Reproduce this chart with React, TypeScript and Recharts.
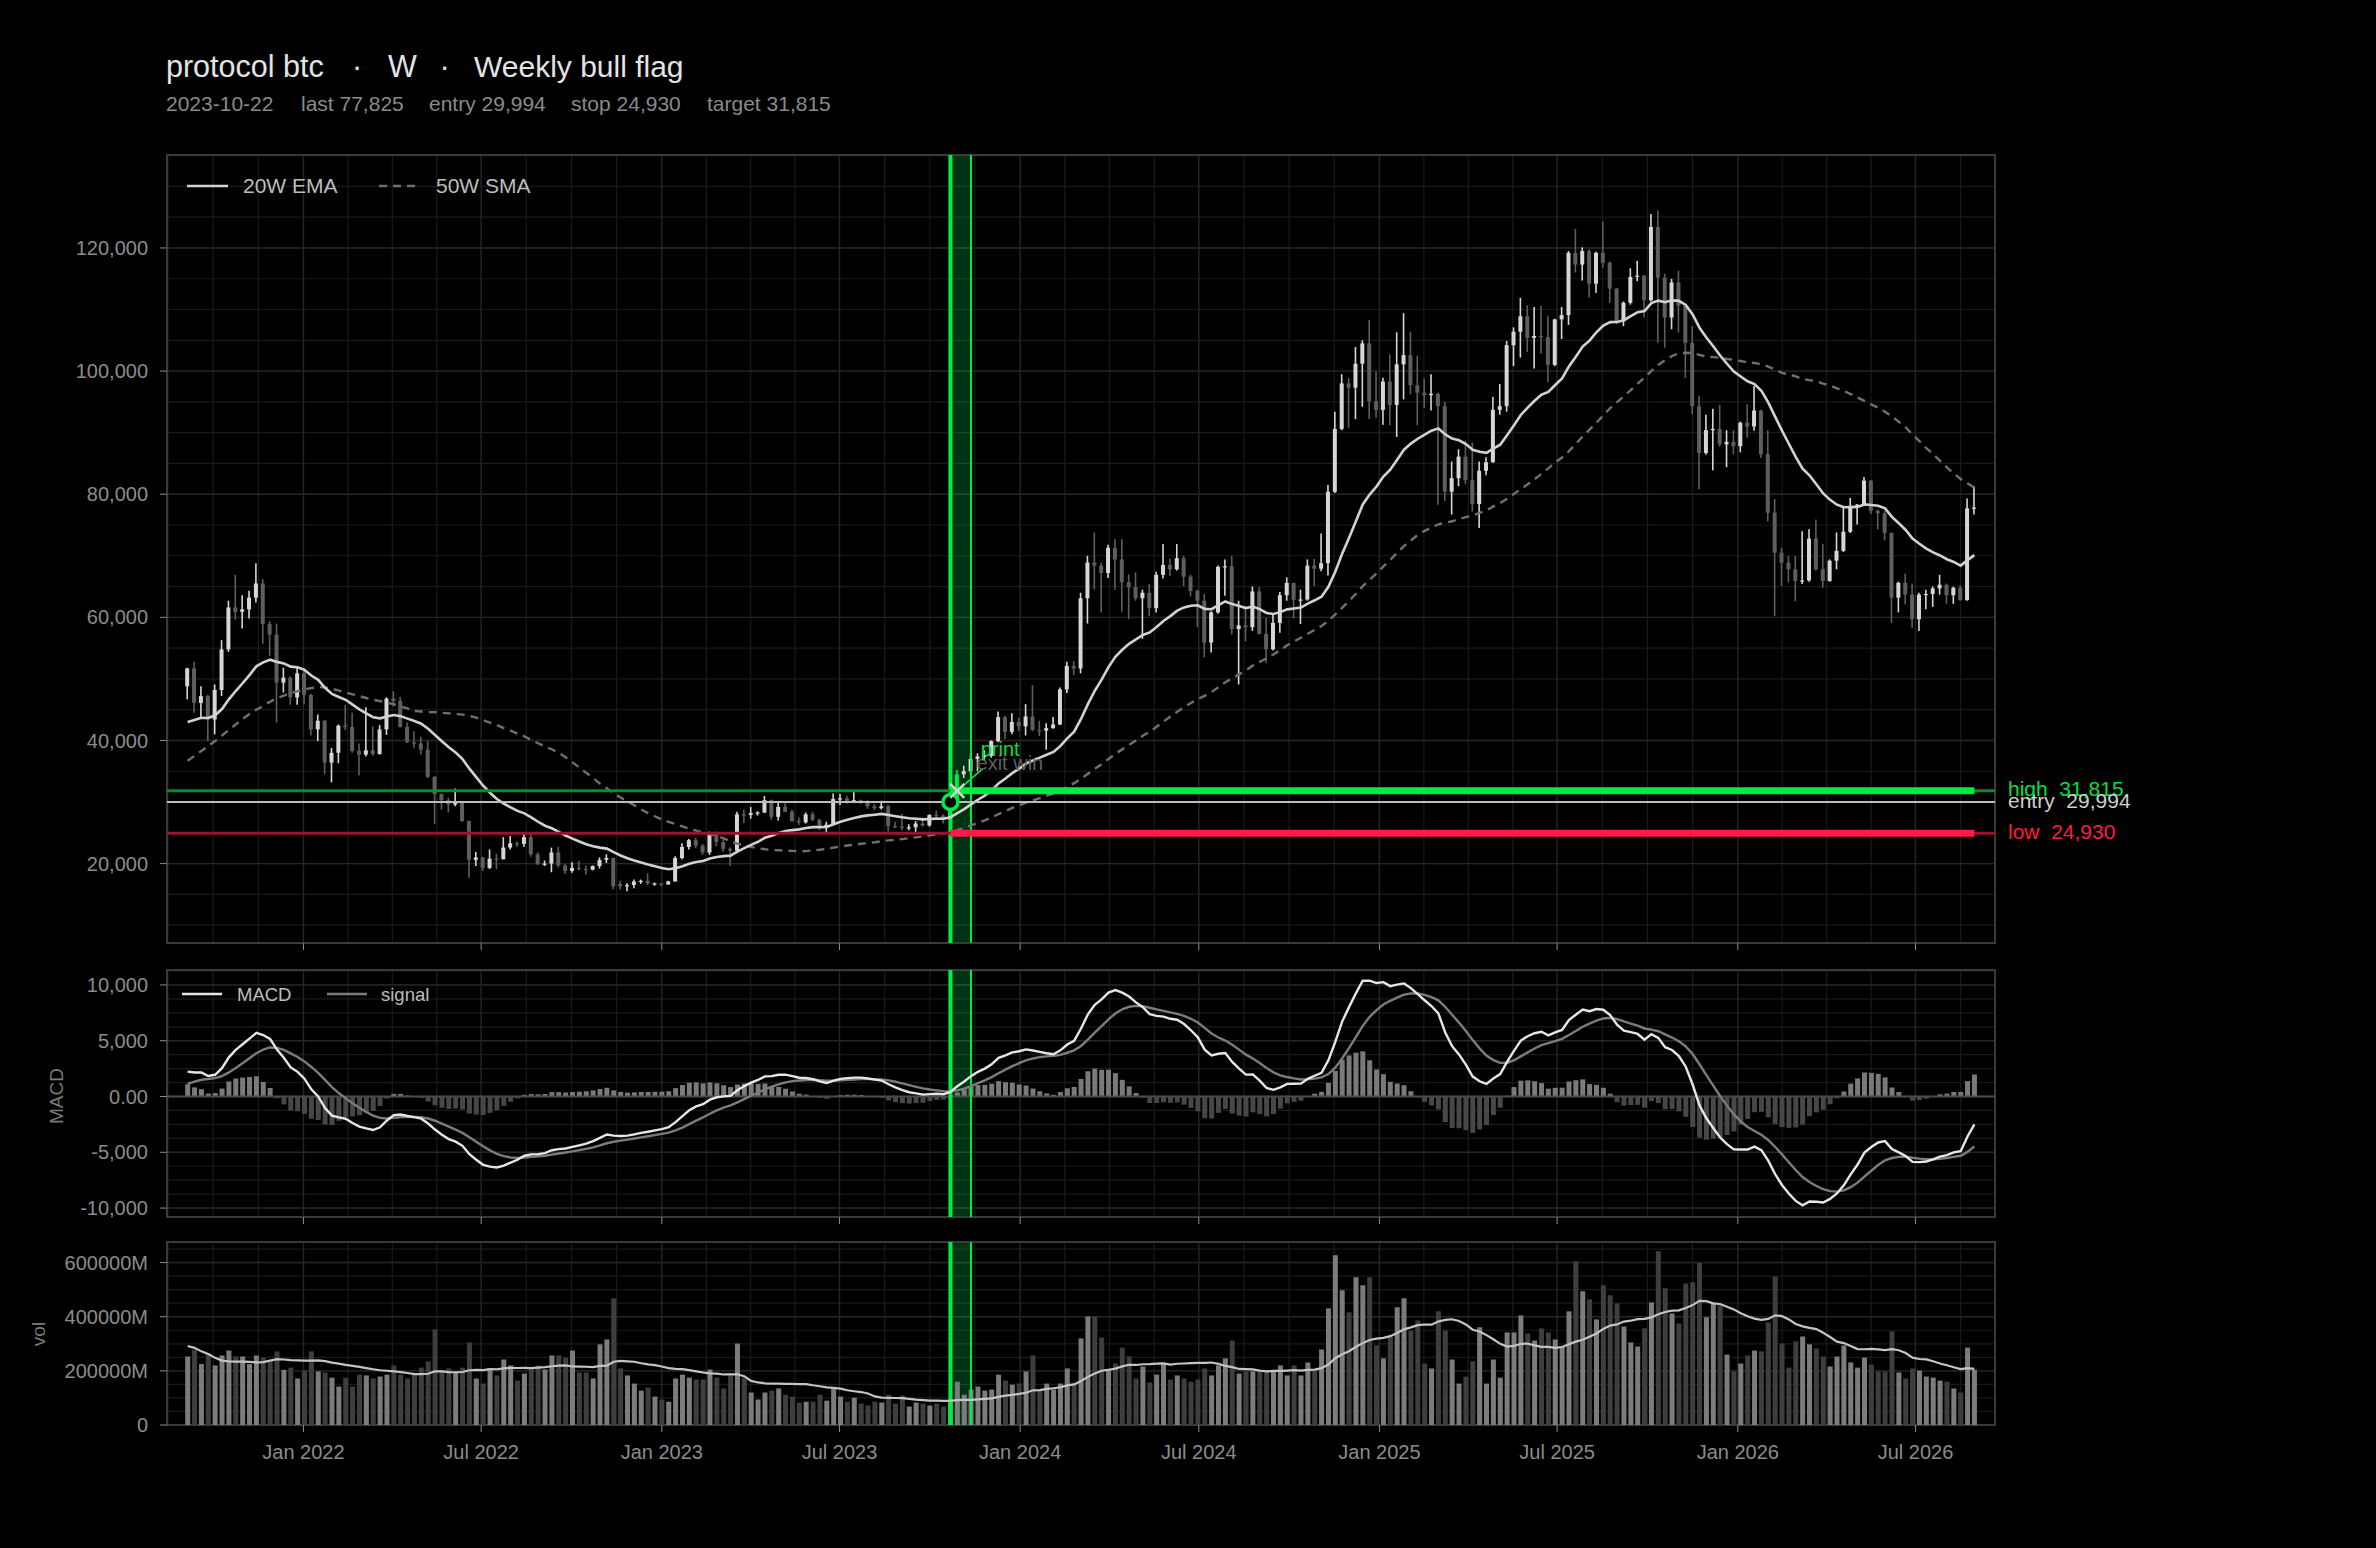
import React from 'react';
import {
  ComposedChart, Bar, Line, XAxis, YAxis, CartesianGrid,
  ReferenceLine, ReferenceArea, ReferenceDot, Cell,
} from 'recharts';

// ---------- data (prices in $k, volume in $B) ----------
const START = Date.UTC(2021, 8, 5);
const WEEK = 7 * 86400000;

const OPEN = [
  48.8,51.7,46.1,47.2,43.4,48.2,54.8,61.6,60.9,61.3,
  63.2,65.5,58.9,57.2,49.4,50.2,47.0,50.9,47.4,41.8,
  43.2,36.4,38.0,42.4,42.2,38.3,37.7,38.4,37.8,41.8,
  46.8,46.4,42.2,39.7,39.5,38.5,34.1,31.3,30.3,29.6,
  29.9,26.9,20.6,21.0,19.3,20.8,20.7,22.6,23.3,23.2,
  24.3,21.5,19.9,20.0,21.8,19.7,18.8,19.3,19.1,19.0,
  19.6,20.6,20.9,16.7,16.3,16.5,17.1,17.2,16.8,16.8,
  16.6,17.1,20.9,22.7,23.8,22.9,21.8,24.8,23.5,22.4,
  22.1,28.0,27.9,28.2,28.3,30.3,27.6,29.2,28.4,26.9,
  26.7,28.0,27.1,25.9,26.3,30.5,30.6,30.2,30.3,30.1,
  29.3,29.0,29.3,26.1,26.0,25.8,25.9,26.5,26.2,27.9,
  27.8,27.1,29.994,34.5,35.0,37.0,37.4,37.5,39.9,43.8,
  41.4,43.0,42.3,43.9,41.7,41.6,42.0,42.6,48.3,52.1,
  51.7,63.1,68.9,68.4,67.2,71.3,69.4,65.7,64.9,63.1,
  64.0,61.5,66.9,68.5,67.8,69.6,66.6,64.3,62.7,55.9,
  60.8,68.2,68.3,58.1,58.7,58.4,64.2,57.3,54.8,59.1,
  63.6,65.6,62.8,62.9,68.4,67.9,68.8,80.4,90.6,98.0,
  97.3,101.2,104.5,95.1,93.7,98.3,94.5,101.1,102.6,97.7,
  96.5,96.1,96.3,94.3,80.4,82.6,86.1,82.3,78.4,83.8,
  85.2,93.7,94.3,104.2,106.4,108.9,105.4,105.7,105.5,101.0,
  108.4,109.1,119.2,117.3,119.5,114.2,119.2,117.6,113.4,108.1,
  111.1,115.3,115.5,111.5,123.4,115.2,108.7,114.4,110.6,104.6,
  94.3,86.7,90.4,90.6,88.1,88.5,87.8,91.6,91.0,93.6,
  86.5,77.0,70.5,68.9,67.8,65.9,66.0,72.8,67.8,65.9,
  69.2,70.8,73.9,78.1,78.3,82.2,77.3,76.9,73.7,63.2,
  65.6,63.7,59.7,63.7,63.8,64.7,65.3,63.6,64.8,62.8,
  77.7,
];
const HIGH = [
  51.8,52.8,48.8,47.4,49.1,56.3,62.7,66.9,63.6,64.3,
  68.8,66.2,59.4,59.0,51.8,50.4,51.8,51.8,47.6,44.2,
  43.3,38.8,42.6,45.8,44.5,39.5,45.4,42.3,42.5,47.0,
  48.0,47.1,42.9,41.5,40.6,39.9,34.2,31.4,30.7,32.2,
  30.0,27.0,21.9,21.1,22.3,21.6,24.3,24.5,23.6,25.0,
  25.0,21.8,20.5,22.6,22.7,19.9,20.2,20.4,19.7,19.7,
  21.0,21.5,21.0,17.2,16.8,17.4,17.4,18.4,16.9,16.8,
  17.2,21.2,23.3,24.0,24.2,23.2,25.2,25.2,23.9,22.6,
  28.4,28.8,29.2,28.5,31.0,30.4,30.0,29.8,28.8,27.5,
  28.3,28.4,27.3,26.8,31.4,31.3,31.0,31.815,30.4,30.3,
  29.7,30.2,29.5,26.8,28.1,26.4,26.9,27.5,28.0,28.6,
  28.0,30.2,35.2,35.9,37.9,37.9,38.4,40.0,44.7,44.0,
  44.4,43.7,45.9,49.0,43.2,42.8,43.8,48.6,52.8,52.9,
  64.0,70.0,73.8,68.9,71.8,72.7,72.7,67.0,67.3,64.5,
  65.4,67.4,71.9,69.5,71.9,70.0,66.9,64.5,63.8,61.0,
  68.4,69.4,70.0,62.7,61.8,65.0,64.9,59.9,60.6,64.1,
  66.5,65.6,64.5,69.4,69.5,73.6,81.5,93.4,99.5,98.9,
  103.9,105.0,108.3,99.9,98.9,102.7,106.3,109.4,106.4,102.5,
  98.8,99.5,96.5,95.0,85.3,87.3,88.7,88.4,85.3,86.0,
  95.8,97.9,104.9,107.1,111.9,110.7,110.4,110.6,108.9,108.5,
  110.4,119.5,123.1,120.1,119.8,119.4,124.3,117.8,113.5,111.3,
  116.7,117.9,115.6,125.5,126.1,115.8,115.0,116.3,111.0,107.3,
  96.0,92.9,93.9,94.5,90.4,90.4,91.8,94.6,97.6,93.7,
  90.4,79.2,71.3,70.0,70.0,74.0,74.3,75.9,71.9,69.4,
  73.8,78.1,79.4,78.4,82.8,82.3,77.5,77.3,73.8,65.8,
  67.1,65.5,64.0,64.5,65.0,66.9,65.5,65.0,65.2,79.3,
  81.3,
];
const LOW = [
  46.7,44.5,43.7,39.9,41.0,47.2,54.4,59.6,58.2,59.8,
  62.4,55.7,53.7,42.9,47.8,45.8,45.8,45.9,40.8,39.9,
  34.5,33.2,36.3,41.7,38.0,34.3,37.4,37.5,37.7,40.9,
  45.5,42.1,39.6,38.8,37.7,33.9,26.4,28.8,28.3,29.3,
  26.8,17.7,19.6,18.8,19.1,19.1,20.7,22.3,22.7,22.7,
  21.1,19.8,19.6,18.6,19.4,18.3,18.5,18.9,18.2,18.9,
  19.2,20.1,15.8,15.8,15.5,16.0,16.7,16.5,16.4,16.3,
  16.6,17.1,20.7,22.3,22.5,21.4,21.4,22.8,21.9,19.6,
  22.0,26.6,27.3,27.8,28.2,27.1,27.0,28.4,26.8,26.3,
  26.5,26.9,25.4,25.0,26.2,29.5,29.7,29.9,29.7,28.9,
  28.7,28.8,25.2,25.8,25.4,25.4,24.93,26.0,26.0,27.2,
  26.5,26.9,29.7,33.9,34.5,35.0,36.7,37.2,39.7,40.2,
  41.0,41.5,40.8,41.5,40.7,38.5,41.9,42.5,47.7,50.6,
  50.9,59.0,64.5,60.8,66.4,64.5,60.9,59.7,62.7,56.5,
  60.2,60.8,66.3,66.7,67.6,65.1,63.4,58.4,53.5,54.3,
  60.6,63.5,57.2,49.1,56.1,57.8,57.2,52.6,54.6,57.5,
  62.7,59.8,58.9,62.7,65.1,67.5,66.8,80.2,90.4,90.8,
  92.2,94.2,92.2,92.4,91.3,91.2,89.3,95.4,96.2,91.2,
  94.0,93.6,78.3,78.9,76.7,81.3,81.6,77.2,74.5,83.1,
  85.1,92.9,93.4,100.8,102.2,103.1,100.4,102.8,98.2,100.8,
  105.2,107.5,116.0,114.7,111.9,112.7,116.8,111.1,107.6,107.3,
  110.8,114.6,108.7,111.3,104.6,103.8,106.8,106.3,98.9,93.0,
  80.8,86.4,83.9,87.7,84.4,86.5,86.8,89.2,90.3,85.9,
  75.6,60.2,65.1,65.7,62.6,65.4,65.8,67.6,64.8,65.8,
  67.8,70.6,73.7,75.1,78.1,76.8,74.3,72.5,59.1,60.8,
  62.1,58.3,57.8,61.3,61.7,63.7,62.2,62.2,62.7,62.7,
  76.7,
];
const CLOSE = [
  51.7,46.1,47.2,43.4,48.2,54.8,61.6,60.9,61.3,63.2,
  65.5,58.9,57.2,49.4,50.2,47.0,50.9,47.4,41.8,43.2,
  36.4,38.0,42.4,42.2,38.3,37.7,38.4,37.8,41.8,46.8,
  46.4,42.2,39.7,39.5,38.5,34.1,31.3,30.3,29.6,29.9,
  26.9,20.6,21.0,19.3,20.8,20.7,22.6,23.3,23.2,24.3,
  21.5,19.9,20.0,21.8,19.7,18.8,19.3,19.1,19.0,19.6,
  20.6,20.9,16.3,16.3,16.5,17.1,17.2,16.8,16.8,16.6,
  17.1,20.9,22.7,23.8,22.9,21.8,24.8,23.5,22.4,22.1,
  28.0,27.9,28.2,28.3,30.3,27.6,29.2,28.4,26.9,26.7,
  28.0,27.1,25.9,26.3,30.5,30.6,30.2,30.3,30.1,29.3,
  29.0,29.3,26.1,26.0,25.8,25.9,26.5,26.2,27.9,27.8,
  27.1,29.994,34.5,35.0,37.0,37.4,37.5,39.9,43.8,41.4,
  43.0,42.3,43.9,41.7,41.6,42.0,42.6,48.3,52.1,51.7,
  63.1,68.9,68.4,67.2,71.3,69.4,65.7,64.9,63.1,64.0,
  61.5,66.9,68.5,67.8,69.6,66.6,64.3,62.7,55.9,60.8,
  68.2,68.3,58.1,58.7,58.4,64.2,57.3,54.8,59.1,63.6,
  65.6,62.8,62.9,68.4,67.9,68.8,80.4,90.6,98.0,97.3,
  101.2,104.5,95.1,93.7,98.3,94.5,101.1,102.6,97.7,96.5,
  96.1,96.3,94.3,80.4,82.6,86.1,82.3,78.4,83.8,85.2,
  93.7,94.3,104.2,106.4,108.9,105.4,105.7,105.5,101.0,108.4,
  109.1,119.2,117.3,119.5,114.2,119.2,117.6,113.4,108.1,111.1,
  115.3,115.5,111.5,123.4,115.2,108.7,114.4,110.6,104.6,94.3,
  86.7,90.4,90.6,88.1,88.5,87.8,91.6,91.0,93.6,86.5,
  77.0,70.5,68.9,67.8,65.9,66.0,72.8,67.8,65.9,69.2,
  70.8,73.9,78.1,78.3,82.2,77.3,76.9,73.7,63.2,65.6,
  63.7,59.7,63.7,63.8,64.7,65.3,63.6,64.8,62.8,77.7,
  77.825,
];
const VOLUME = [
  253,278,225,265,220,257,275,253,253,225,
  257,249,235,272,204,212,172,201,272,198,
  194,175,142,175,142,186,183,172,179,186,
  220,186,172,186,212,235,353,198,209,194,
  212,305,172,153,209,183,242,220,164,190,
  209,220,205,257,257,249,275,194,194,172,
  298,316,468,209,183,153,127,138,105,94,
  86,172,186,175,168,168,205,175,135,183,
  301,175,120,94,120,127,135,112,105,83,
  86,86,112,90,135,105,86,101,79,72,
  86,83,112,79,109,68,83,79,72,79,
  68,95,160,112,131,142,127,131,186,164,
  149,153,198,257,127,153,131,153,209,153,
  320,401,401,323,205,227,286,253,172,216,
  157,186,227,168,183,172,160,168,209,183,
  220,246,312,190,198,198,198,201,201,220,
  183,220,183,231,201,279,431,627,498,416,
  546,516,546,294,246,327,435,468,349,386,
  227,209,420,349,242,153,179,235,361,153,
  242,175,342,342,405,338,312,357,342,316,
  290,420,605,494,464,390,516,479,449,364,
  305,290,357,453,642,505,412,375,523,527,
  598,398,449,442,260,198,227,257,275,272,
  379,549,301,212,309,327,298,283,253,216,
  253,294,231,212,249,223,198,198,346,194,
  172,209,201,179,175,164,160,135,120,286,
  204,
];
// 50W SMA as drawn for weeks before a full 50-week window exists ($k)
const SMA50_EARLY = [
  36.7,37.5,38.3,39.1,39.9,40.8,41.7,42.6,43.5,44.3,
  45.0,45.6,46.3,46.9,47.3,47.7,48.0,48.3,48.5,48.7,
  48.6,48.4,48.1,47.8,47.5,47.2,46.9,46.6,46.4,46.1,
  45.9,45.5,45.2,44.8,44.7,44.6,44.6,44.5,44.4,44.3,
  44.2,44.0,43.7,43.3,42.9,42.5,42.0,41.6,41.1,
];
// 20W volume average as drawn for weeks before a full window ($B)
const VOLMA_EARLY = [292,285,272,262,248,238,235,234,234,233,231,232,238,243,242,240,239,238,238];
// indicator levels just before the first week shown ($k)
const EMA20_SEED = 42.1;
const EMA12_SEED = 43.72;
const EMA26_SEED = 42.0;
const SIGNAL_SEED = 0.86;

const ENTRY = 29994;
const STOP = 24930;
const TARGET = 31815;
const SIGNAL_WEEK = 111;
const EXIT_WEEK = 112;
const WINDOW_END_WEEK = 114;

const X_TICKS = [
  Date.UTC(2022, 0, 1), Date.UTC(2022, 6, 1), Date.UTC(2023, 0, 1), Date.UTC(2023, 6, 1),
  Date.UTC(2024, 0, 1), Date.UTC(2024, 6, 1), Date.UTC(2025, 0, 1), Date.UTC(2025, 6, 1),
  Date.UTC(2026, 0, 1), Date.UTC(2026, 6, 1),
];
const X_TICK_LABELS = ['Jan 2022', 'Jul 2022', 'Jan 2023', 'Jul 2023', 'Jan 2024', 'Jul 2024', 'Jan 2025', 'Jul 2025', 'Jan 2026', 'Jul 2026'];
const PRICE_TICKS = [20000, 40000, 60000, 80000, 100000, 120000];
const MACD_TICKS = [-10000, -5000, 0, 5000, 10000];
const VOL_TICKS = [0, 200, 400, 600];

// ---------- derived ----------
const K = 1000;
const wk = (i: number) => START + i * WEEK;

type Row = { t: number; o: number; h: number; l: number; c: number; up: boolean; sig: boolean;
  ema: number; sma: number; macd: number; signal: number; hist: number; vol: number; vma: number };

function buildRows(): Row[] {
  const rows: Row[] = [];
  let e20 = EMA20_SEED, e12 = EMA12_SEED, e26 = EMA26_SEED, sg = SIGNAL_SEED;
  for (let i = 0; i < CLOSE.length; i++) {
    const c = CLOSE[i];
    e20 += (2 / 21) * (c - e20);
    e12 += (2 / 13) * (c - e12);
    e26 += (2 / 27) * (c - e26);
    const m = e12 - e26;
    sg += (2 / 10) * (m - sg);
    let sma: number;
    if (i < 49) sma = SMA50_EARLY[i];
    else { let s = 0; for (let j = i - 49; j <= i; j++) s += CLOSE[j]; sma = s / 50; }
    let vma: number;
    if (i < 19) vma = VOLMA_EARLY[i];
    else { let s = 0; for (let j = i - 19; j <= i; j++) s += VOLUME[j]; vma = s / 20; }
    rows.push({
      t: wk(i), o: OPEN[i] * K, h: HIGH[i] * K, l: LOW[i] * K, c: c * K,
      up: c >= OPEN[i], sig: i === SIGNAL_WEEK || i === EXIT_WEEK,
      ema: e20 * K, sma: sma * K, macd: m * K, signal: sg * K, hist: (m - sg) * K,
      vol: VOLUME[i], vma,
    });
  }
  return rows;
}
const ROWS = buildRows();

const X_MIN = wk(-3);
const X_MAX = wk(CLOSE.length - 1 + 3);
const PRICE_DOMAIN: [number, number] = [7100, 135100];
const MACD_DOMAIN: [number, number] = [-10800, 11340];
const VOL_DOMAIN: [number, number] = [0, 676];

const range = (a: number, b: number, s: number) => { const r: number[] = []; for (let v = a; v <= b + 1e-9; v += s) r.push(v); return r; };
const BOUNDS = [Date.UTC(2021, 6, 1), ...X_TICKS, Date.UTC(2027, 0, 1)];
const X_MINOR: number[] = [];
for (let i = 0; i < BOUNDS.length - 1; i++) for (let k = 1; k < 4; k++) {
  const v = BOUNDS[i] + (BOUNDS[i + 1] - BOUNDS[i]) * k / 4;
  if (v > X_MIN && v < X_MAX) X_MINOR.push(v);
}

// ---------- style ----------
const FONT = '"Liberation Sans", Arial, Helvetica, sans-serif';
const GREEN = '#00ee44';
const GREEN_DIM = '#0e8a2c';
const RED = '#ff1a48';
const RED_DIM = '#9a1431';
const UP = '#d6d6d6';
const DOWN = '#5e5e5e';
const GRID_MINOR = '#1a1a1a';
const GRID_MAJOR = '#252525';
const FRAME = '#3a3a3a';
const TICK = '#8c8c8c';
const W = 2376;
const MARGIN_L = 67;
const MARGIN_R = 381;
const Y_W = 100;

const Candle = (props: any) => {
  const { x, y, width, height, payload } = props;
  if (x == null || y == null || !payload) return null;
  const top = Math.min(y, y + height);
  const span = Math.abs(height);
  const { o, h, l, c } = payload;
  const yOf = (v: number) => (h === l ? top : top + ((h - v) / (h - l)) * span);
  const cx = x + width / 2;
  const color = payload.sig ? GREEN : c >= o ? UP : DOWN;
  const bt = yOf(Math.max(o, c));
  const bb = yOf(Math.min(o, c));
  return (
    <g>
      <line x1={cx} x2={cx} y1={top} y2={top + span} stroke={color} strokeWidth={1.6} />
      <rect x={x} y={bt} width={width} height={Math.max(1.2, bb - bt)} fill={color} />
    </g>
  );
};

const SideLabel = (props: any) => {
  const vb = props.viewBox || {};
  return (
    <text x={(vb.x || 0) + (vb.width || 0) + 13} y={(vb.y || 0) + 5.5} fill={props.color}
      fontSize={21} fontFamily={FONT} style={{ whiteSpace: 'pre' }}>{props.text}</text>
  );
};

const ExitMark = (props: any) => {
  const { cx, cy } = props;
  if (cx == null) return null;
  const s = 7;
  return (
    <g stroke="#d4d4d4" strokeWidth={2.4}>
      <line x1={cx - s} y1={cy - s} x2={cx + s} y2={cy + s} />
      <line x1={cx - s} y1={cy + s} x2={cx + s} y2={cy - s} />
    </g>
  );
};

const TextAt = (text: string, color: string) => (props: any) => {
  const { cx, cy } = props;
  if (cx == null) return <g />;
  return <text x={cx} y={cy} fill={color} fontSize={20} fontFamily={FONT}>{text}</text>;
};

const xAxisCommon = {
  dataKey: 't', type: 'number' as const, domain: [X_MIN, X_MAX], allowDataOverflow: true,
  ticks: X_TICKS, interval: 0 as const, axisLine: false, tickSize: 7,
  tickLine: { stroke: TICK },
};

const fmtX = (v: number) => { const i = X_TICKS.indexOf(v); return i >= 0 ? X_TICK_LABELS[i] : ''; };

function bandElements(yDomain: [number, number]) {
  return [
    <ReferenceArea key="band" x1={wk(SIGNAL_WEEK)} x2={wk(WINDOW_END_WEEK)} y1={yDomain[0]} y2={yDomain[1]}
      fill="#00ff55" fillOpacity={0.2} stroke="none" ifOverflow="visible" />,
    <ReferenceLine key="bl" x={wk(SIGNAL_WEEK)} stroke={GREEN} strokeWidth={4} />,
    <ReferenceLine key="br" x={wk(WINDOW_END_WEEK)} stroke={GREEN} strokeWidth={2} />,
  ];
}

function frame(yDomain: [number, number]) {
  return <ReferenceArea x1={X_MIN} x2={X_MAX} y1={yDomain[0]} y2={yDomain[1]} fill="none"
    stroke={FRAME} strokeWidth={2} ifOverflow="visible" />;
}

function grids(hMinor: number[], hMajor: number[]) {
  return [
    <CartesianGrid key="g1" stroke={GRID_MINOR} strokeWidth={1.2} horizontalValues={hMinor} verticalValues={X_MINOR} />,
    <CartesianGrid key="g2" stroke={GRID_MAJOR} strokeWidth={1.4} horizontalValues={hMajor} verticalValues={X_TICKS} />,
  ];
}

export default function App() {
  const tickStyle = { fill: TICK, fontSize: 20, fontFamily: FONT };
  return (
    <div style={{ position: 'absolute', left: 0, top: 0, width: W, height: 1548, background: '#000', overflow: 'hidden', fontFamily: FONT }}>
      {/* main price panel */}
      <div style={{ position: 'absolute', left: 0, top: 0 }}>
        <ComposedChart width={W} height={955} data={ROWS} margin={{ top: 155, right: MARGIN_R, bottom: 0, left: MARGIN_L }}>
          {grids(range(10000, 135000, 5000), PRICE_TICKS)}
          <XAxis {...xAxisCommon} height={12} tickFormatter={() => ''} />
          <YAxis type="number" domain={PRICE_DOMAIN} allowDataOverflow ticks={PRICE_TICKS} interval={0} width={Y_W}
            axisLine={false} tickSize={7} tickMargin={12} tickLine={{ stroke: TICK }} tick={tickStyle}
            tickFormatter={(v: number) => v.toLocaleString('en-US')} />
          {bandElements(PRICE_DOMAIN)}
          <Bar dataKey={(d: Row) => [d.l, d.h]} barSize={4} shape={<Candle />} isAnimationActive={false} />
          <Line dataKey="sma" type="linear" stroke="#707070" strokeWidth={2.4} strokeDasharray="8 6" dot={false} isAnimationActive={false} />
          <Line dataKey="ema" type="linear" stroke="#d2d2d2" strokeWidth={2.6} dot={false} isAnimationActive={false} />
          <ReferenceLine y={TARGET} stroke={GREEN_DIM} strokeWidth={3}
            label={<SideLabel text={'high  ' + TARGET.toLocaleString('en-US')} color="#00e040" />} />
          <ReferenceLine y={STOP} stroke={RED_DIM} strokeWidth={3}
            label={<SideLabel text={'low  ' + STOP.toLocaleString('en-US')} color={RED} />} />
          <ReferenceLine y={ENTRY} stroke="#bdbdbd" strokeWidth={2}
            label={<SideLabel text={'entry  ' + ENTRY.toLocaleString('en-US')} color="#cfcfcf" />} />
          <ReferenceLine segment={[{ x: wk(SIGNAL_WEEK), y: TARGET }, { x: wk(CLOSE.length - 1), y: TARGET }]} stroke={GREEN} strokeWidth={7} />
          <ReferenceLine segment={[{ x: wk(SIGNAL_WEEK), y: STOP }, { x: wk(CLOSE.length - 1), y: STOP }]} stroke={RED} strokeWidth={7} />
          <ReferenceLine segment={[{ x: wk(EXIT_WEEK), y: TARGET }, { x: wk(115.76), y: 35480 }]} stroke={GREEN} strokeWidth={1.6} />
          <ReferenceDot x={wk(SIGNAL_WEEK)} y={ENTRY} r={7.5} fill="#000" stroke={GREEN} strokeWidth={3.5} />
          <ReferenceDot x={wk(EXIT_WEEK)} y={TARGET} r={7} shape={ExitMark} />
          <ReferenceDot x={wk(114.8)} y={35210} r={0} shape={TextAt('exit win', '#5f5f5f')} />
          <ReferenceDot x={wk(115.4)} y={37480} r={0} shape={TextAt('print', '#00e040')} />
          {frame(PRICE_DOMAIN)}
        </ComposedChart>
      </div>

      {/* MACD panel */}
      <div style={{ position: 'absolute', left: 0, top: 957 }}>
        <ComposedChart width={W} height={272} data={ROWS} margin={{ top: 13, right: MARGIN_R, bottom: 0, left: MARGIN_L }}>
          {grids(range(-10000, 11250, 1250), MACD_TICKS)}
          <XAxis {...xAxisCommon} height={12} tickFormatter={() => ''} />
          <YAxis type="number" domain={MACD_DOMAIN} allowDataOverflow ticks={MACD_TICKS} interval={0} width={Y_W}
            axisLine={false} tickSize={7} tickMargin={12} tickLine={{ stroke: TICK }} tick={tickStyle}
            tickFormatter={(v: number) => (v === 0 ? '0.00' : v.toLocaleString('en-US'))} />
          <ReferenceLine y={0} stroke="#4a4a4a" strokeWidth={2} />
          {bandElements(MACD_DOMAIN)}
          <Bar dataKey="hist" barSize={5} isAnimationActive={false}>
            {ROWS.map((r, i) => <Cell key={i} fill={r.hist >= 0 ? '#7a7a7a' : '#474747'} />)}
          </Bar>
          <Line dataKey="signal" type="linear" stroke="#7c7c7c" strokeWidth={2.4} dot={false} isAnimationActive={false} />
          <Line dataKey="macd" type="linear" stroke="#e6e6e6" strokeWidth={2.4} dot={false} isAnimationActive={false} />
          {frame(MACD_DOMAIN)}
        </ComposedChart>
      </div>

      {/* volume panel */}
      <div style={{ position: 'absolute', left: 0, top: 1230 }}>
        <ComposedChart width={W} height={235} data={ROWS} margin={{ top: 12, right: MARGIN_R, bottom: 0, left: MARGIN_L }}>
          {grids(range(0, 650, 50), VOL_TICKS)}
          <XAxis {...xAxisCommon} height={40} tickMargin={13} tick={tickStyle} tickFormatter={fmtX} />
          <YAxis type="number" domain={VOL_DOMAIN} allowDataOverflow ticks={VOL_TICKS} interval={0} width={Y_W}
            axisLine={false} tickSize={7} tickMargin={12} tickLine={{ stroke: TICK }} tick={tickStyle}
            tickFormatter={(v: number) => (v === 0 ? '0' : `${v * 1000}M`)} />
          {bandElements(VOL_DOMAIN)}
          <Bar dataKey="vol" barSize={5} isAnimationActive={false}>
            {ROWS.map((r, i) => <Cell key={i} fill={r.up ? '#7c7c7c' : '#3e3e3e'} />)}
          </Bar>
          <Line dataKey="vma" type="linear" stroke="#c4c4c4" strokeWidth={2.2} dot={false} isAnimationActive={false} />
          {frame(VOL_DOMAIN)}
        </ComposedChart>
      </div>

      {/* titles, legends, axis names */}
      <svg width={W} height={1548} style={{ position: 'absolute', left: 0, top: 0, pointerEvents: 'none' }} fontFamily={FONT}>
        <text x={166} y={77} fontSize={30.5} fill="#e4e4e4">protocol btc</text>
        <text x={357} y={77} fontSize={30.5} fill="#e4e4e4" textAnchor="middle">·</text>
        <text x={388} y={77} fontSize={30.5} fill="#e4e4e4">W</text>
        <text x={444.5} y={77} fontSize={30.5} fill="#e4e4e4" textAnchor="middle">·</text>
        <text x={474} y={77} fontSize={30} fill="#e4e4e4">Weekly bull flag</text>
        <text x={166} y={111} fontSize={21} fill="#8a8a8a">2023-10-22</text>
        <text x={301} y={111} fontSize={21} fill="#8a8a8a">last 77,825</text>
        <text x={429} y={111} fontSize={21} fill="#8a8a8a">entry 29,994</text>
        <text x={571} y={111} fontSize={21} fill="#8a8a8a">stop 24,930</text>
        <text x={707} y={111} fontSize={21} fill="#8a8a8a">target 31,815</text>

        <line x1={187} x2={228} y1={186} y2={186} stroke="#d2d2d2" strokeWidth={2.6} />
        <text x={243} y={192.5} fontSize={21} fill="#bdbdbd">20W EMA</text>
        <line x1={379} x2={415} y1={186} y2={186} stroke="#707070" strokeWidth={2.4} strokeDasharray="8 6" />
        <text x={436} y={192.5} fontSize={21} fill="#bdbdbd">50W SMA</text>

        <line x1={182} x2={222} y1={994} y2={994} stroke="#e6e6e6" strokeWidth={2.4} />
        <text x={237} y={1000.5} fontSize={18.5} fill="#bdbdbd">MACD</text>
        <line x1={327} x2={367} y1={994} y2={994} stroke="#7c7c7c" strokeWidth={2.4} />
        <text x={381} y={1000.5} fontSize={18.5} fill="#bdbdbd">signal</text>

        <text x={0} y={0} fontSize={19} fill="#7a7a7a" textAnchor="middle" transform="translate(63,1096) rotate(-90)">MACD</text>
        <text x={0} y={0} fontSize={19} fill="#7a7a7a" textAnchor="middle" transform="translate(45,1334) rotate(-90)">vol</text>
      </svg>
    </div>
  );
}
